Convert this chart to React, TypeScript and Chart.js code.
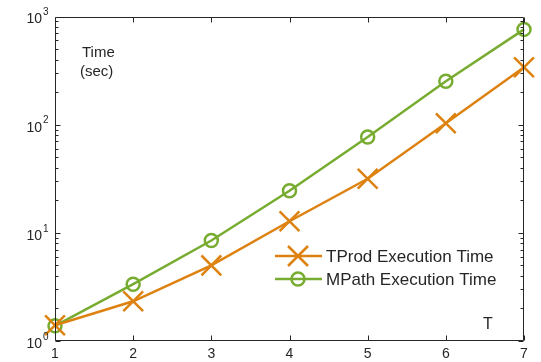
import React, { useEffect, useRef } from 'react';
import { Chart, registerables } from 'chart.js';
Chart.register(...registerables);

const tValues = [1, 2, 3, 4, 5, 6, 7];
const tprodTimes = [1.4, 2.33, 5.0, 12.8, 31.6, 103, 339];
const mpathTimes = [1.38, 3.35, 8.5, 24.5, 77, 252, 760];
const xTickLabels = ['1', '2', '3', '4', '5', '6', '7'];
const yTickExponents = [0, 1, 2, 3];
const seriesNames = ['TProd Execution Time', 'MPath Execution Time'];
const seriesColors = ['#DD8210', '#77AC30'];

const FONT = "'Liberation Sans', Arial, Helvetica, sans-serif";
const AXIS = '#262626';

const decorPlugin = {
  id: 'decor',
  afterDatasetsDraw(chart: any) {
    const { ctx, chartArea: a, scales } = chart;
    const xs = scales.x;
    const ys = scales.y;
    ctx.save();
    ctx.strokeStyle = AXIS;
    ctx.lineWidth = 1;
    const L = Math.round(a.left) + 0.5;
    const R = Math.round(a.right) - 0.5;
    const T = Math.round(a.top) + 0.5;
    const B = Math.round(a.bottom) - 0.5;
    ctx.beginPath();
    ctx.rect(L, T, R - L, B - T);
    ctx.stroke();

    // x ticks
    ctx.beginPath();
    tValues.forEach((v) => {
      const px = Math.round(xs.getPixelForValue(v)) + 0.5;
      ctx.moveTo(px, B);
      ctx.lineTo(px, B - 5);
      ctx.moveTo(px, T);
      ctx.lineTo(px, T + 5);
    });
    // y ticks
    for (let e = 0; e < 3; e++) {
      for (let m = 1; m <= 9; m++) {
        const val = m * Math.pow(10, e);
        const py = Math.round(ys.getPixelForValue(val)) + 0.5;
        const len = m === 1 ? 5 : 3;
        ctx.moveTo(L, py);
        ctx.lineTo(L + len, py);
        ctx.moveTo(R, py);
        ctx.lineTo(R - len, py);
      }
    }
    ctx.stroke();

    // x labels
    ctx.fillStyle = AXIS;
    ctx.font = `14px ${FONT}`;
    ctx.textAlign = 'center';
    ctx.textBaseline = 'top';
    tValues.forEach((v, i) => {
      ctx.fillText(xTickLabels[i], xs.getPixelForValue(v), a.bottom + 6);
    });

    // y labels 10^e
    yTickExponents.forEach((e) => {
      const py = ys.getPixelForValue(Math.pow(10, e));
      ctx.font = `14px ${FONT}`;
      ctx.textAlign = 'right';
      ctx.textBaseline = 'middle';
      const supW = 7;
      const baseX = a.left - 6 - supW;
      ctx.fillText('10', baseX, py + 3);
      ctx.font = `10px ${FONT}`;
      ctx.textAlign = 'left';
      ctx.fillText(String(e), baseX + 1, py - 4);
    });

    // axis labels
    ctx.font = `15px ${FONT}`;
    ctx.textAlign = 'left';
    ctx.textBaseline = 'alphabetic';
    ctx.fillText('Time', 82, 57);
    ctx.fillText('(sec)', 80, 76);
    ctx.font = `16px ${FONT}`;
    ctx.fillText('T', 483, 329);

    // legend
    const lx0 = 275, lx1 = 322, mx = 298, tx = 326;
    const rows = [256, 279];
    rows.forEach((y, i) => {
      ctx.strokeStyle = seriesColors[i];
      ctx.lineWidth = 2.5;
      ctx.beginPath();
      ctx.moveTo(lx0, y);
      ctx.lineTo(lx1, y);
      ctx.stroke();
      ctx.beginPath();
      if (i === 0) {
        const h = 10;
        ctx.moveTo(mx - h, y - h);
        ctx.lineTo(mx + h, y + h);
        ctx.moveTo(mx - h, y + h);
        ctx.lineTo(mx + h, y - h);
      } else {
        ctx.arc(mx, y, 6.5, 0, Math.PI * 2);
      }
      ctx.stroke();
      ctx.fillStyle = AXIS;
      ctx.font = `17px ${FONT}`;
      ctx.textAlign = 'left';
      ctx.textBaseline = 'middle';
      ctx.fillText(seriesNames[i], tx, y + 1);
    });
    ctx.restore();
  },
};

export default function App() {
  const ref = useRef<HTMLCanvasElement | null>(null);
  useEffect(() => {
    document.body.style.margin = '0';
    const canvas = ref.current!;
    const chart = new Chart(canvas, {
      type: 'line',
      data: {
        datasets: [
          {
            label: seriesNames[0],
            data: tValues.map((x, i) => ({ x, y: tprodTimes[i] })),
            borderColor: seriesColors[0],
            backgroundColor: 'transparent',
            borderWidth: 2.5,
            pointStyle: 'crossRot',
            pointRadius: 14,
            pointBorderWidth: 2.5,
            pointBorderColor: seriesColors[0],
            clip: false as any,
          },
          {
            label: seriesNames[1],
            data: tValues.map((x, i) => ({ x, y: mpathTimes[i] })),
            borderColor: seriesColors[1],
            backgroundColor: 'transparent',
            borderWidth: 2.5,
            pointStyle: 'circle',
            pointRadius: 6.5,
            pointBorderWidth: 2.5,
            pointBorderColor: seriesColors[1],
            pointBackgroundColor: 'transparent',
            clip: false as any,
          },
        ],
      },
      options: {
        animation: false,
        responsive: false,
        maintainAspectRatio: false,
        events: [],
        layout: { padding: { left: 55, right: 17, top: 15, bottom: 21 } },
        plugins: { legend: { display: false }, tooltip: { enabled: false } },
        scales: {
          x: { type: 'linear', min: 1, max: 7, display: false },
          y: { type: 'logarithmic', min: 1, max: 1000, display: false },
        },
      },
      plugins: [decorPlugin],
    });
    return () => chart.destroy();
  }, []);
  return (
    <div style={{ width: 541, height: 362, background: '#fff' }}>
      <canvas ref={ref} width={541} height={362} style={{ display: 'block' }} />
    </div>
  );
}
